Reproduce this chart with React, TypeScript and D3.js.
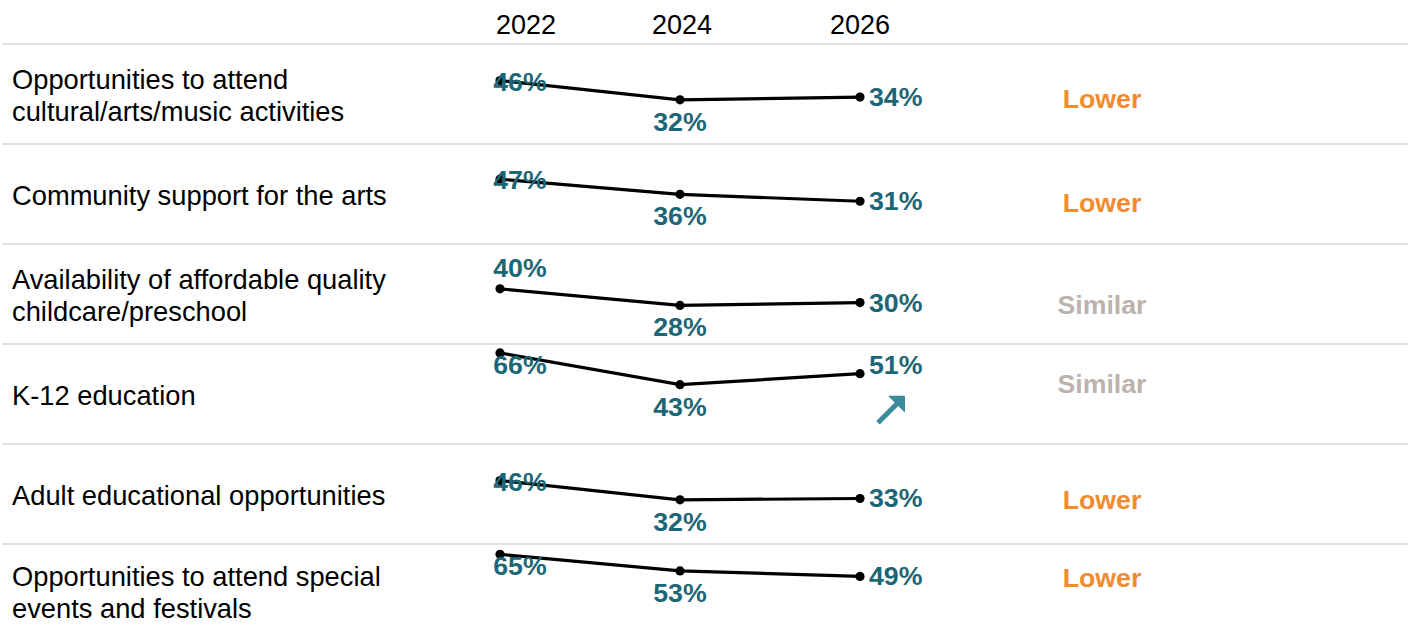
import React from "react";
import * as d3 from "d3";

const categories = [
  "Opportunities to attend cultural/arts/music activities",
  "Community support for the arts",
  "Availability of affordable quality childcare/preschool",
  "K-12 education",
  "Adult educational opportunities",
  "Opportunities to attend special events and festivals",
];
// label lines as shown in the chart
const categoryLines = [
  ["Opportunities to attend", "cultural/arts/music activities"],
  ["Community support for the arts"],
  ["Availability of affordable quality", "childcare/preschool"],
  ["K-12 education"],
  ["Adult educational opportunities"],
  ["Opportunities to attend special", "events and festivals"],
];
const years = [2022, 2024, 2026];
const values2022 = [46, 47, 40, 66, 46, 65];
const values2024 = [32, 36, 28, 43, 32, 53];
const values2026 = [34, 31, 30, 51, 33, 49];
const comparison = ["Lower", "Lower", "Similar", "Similar", "Lower", "Lower"];
const trendUp = [false, false, false, true, false, false];
// where the first label sits relative to its point
const firstLabelPlace = ["on", "on", "above", "below", "on", "below"];

const W = 1419;
const H = 637;
const FONT = "'Liberation Sans', Arial, Helvetica, sans-serif";
const TEAL = "#1d6675";
const ORANGE = "#f28a2e";
const GREY = "#bdb3ae";
const ARROW = "#3a8c9c";

export default function App() {
  const rowBand = d3.scaleBand<string>().domain(categories).range([44, 644]);
  const x = d3.scaleLinear().domain([2022, 2026]).range([500, 860]);
  const yIn = d3.scaleLinear().domain([0, 72.5]).range([rowBand.step(), 0]);
  const line = d3.line<[number, number]>().x(d => d[0]).y(d => d[1]);

  const headerDx = [26, 2, 0];
  const placeDy: Record<string, number> = { on: 10, above: -12, below: 21 };

  return (
    <svg width={W} height={H} style={{ position: "absolute", left: 0, top: 0, background: "#fff" }} fontFamily={FONT}>
      {years.map((yr, i) => (
        <text key={yr} x={x(yr) + headerDx[i]} y={34} textAnchor="middle" fontSize={27} fill="#000">
          {yr}
        </text>
      ))}
      {categories.map((c, i) => {
        const top = rowBand(c)!;
        const vals = [values2022[i], values2024[i], values2026[i]];
        const pts: [number, number][] = vals.map((v, j) => [x(years[j]), top + yIn(v)]);
        const lines = categoryLines[i];
        const last = i === categories.length - 1;
        const mid = top + rowBand.step() / 2 + (last ? -2 : 1);
        const p3 = pts[2];
        return (
          <g key={c}>
            <line x1={2} x2={1408} y1={top} y2={top} stroke="#d9d9d9" strokeWidth={1.5} />
            {lines.map((ln, k) => (
              <text key={k} x={12} y={mid + 10 + (k - (lines.length - 1) / 2) * 32} fontSize={27.3} fill="#000">
                {ln}
              </text>
            ))}
            <path d={line(pts)!} fill="none" stroke="#000" strokeWidth={3.2} />
            {pts.map((p, j) => (
              <circle key={j} cx={p[0]} cy={p[1]} r={4.6} fill="#000" />
            ))}
            <text x={pts[0][0] + 20} y={pts[0][1] + placeDy[firstLabelPlace[i]]} textAnchor="middle" fontSize={26.7} fontWeight="bold" fill={TEAL}>
              {values2022[i]}%
            </text>
            <text x={pts[1][0]} y={pts[1][1] + 31} textAnchor="middle" fontSize={26.7} fontWeight="bold" fill={TEAL}>
              {values2024[i]}%
            </text>
            <text x={p3[0] + 9} y={p3[1] + (trendUp[i] ? 0 : 9)} textAnchor="start" fontSize={26.7} fontWeight="bold" fill={TEAL}>
              {values2026[i]}%
            </text>
            {trendUp[i] && (
              <g>
                <line x1={p3[0] + 18} y1={p3[1] + 49} x2={p3[0] + 40} y2={p3[1] + 27} stroke={ARROW} strokeWidth={5} />
                <path d={`M${p3[0] + 28},${p3[1] + 22} L${p3[0] + 45},${p3[1] + 22} L${p3[0] + 45},${p3[1] + 39} Z`} fill={ARROW} />
              </g>
            )}
            <text x={1102} y={p3[1] + (trendUp[i] ? 19 : 11)} textAnchor="middle" fontSize={26.7} fontWeight="bold" fill={comparison[i] === "Lower" ? ORANGE : GREY}>
              {comparison[i]}
            </text>
          </g>
        );
      })}
    </svg>
  );
}
